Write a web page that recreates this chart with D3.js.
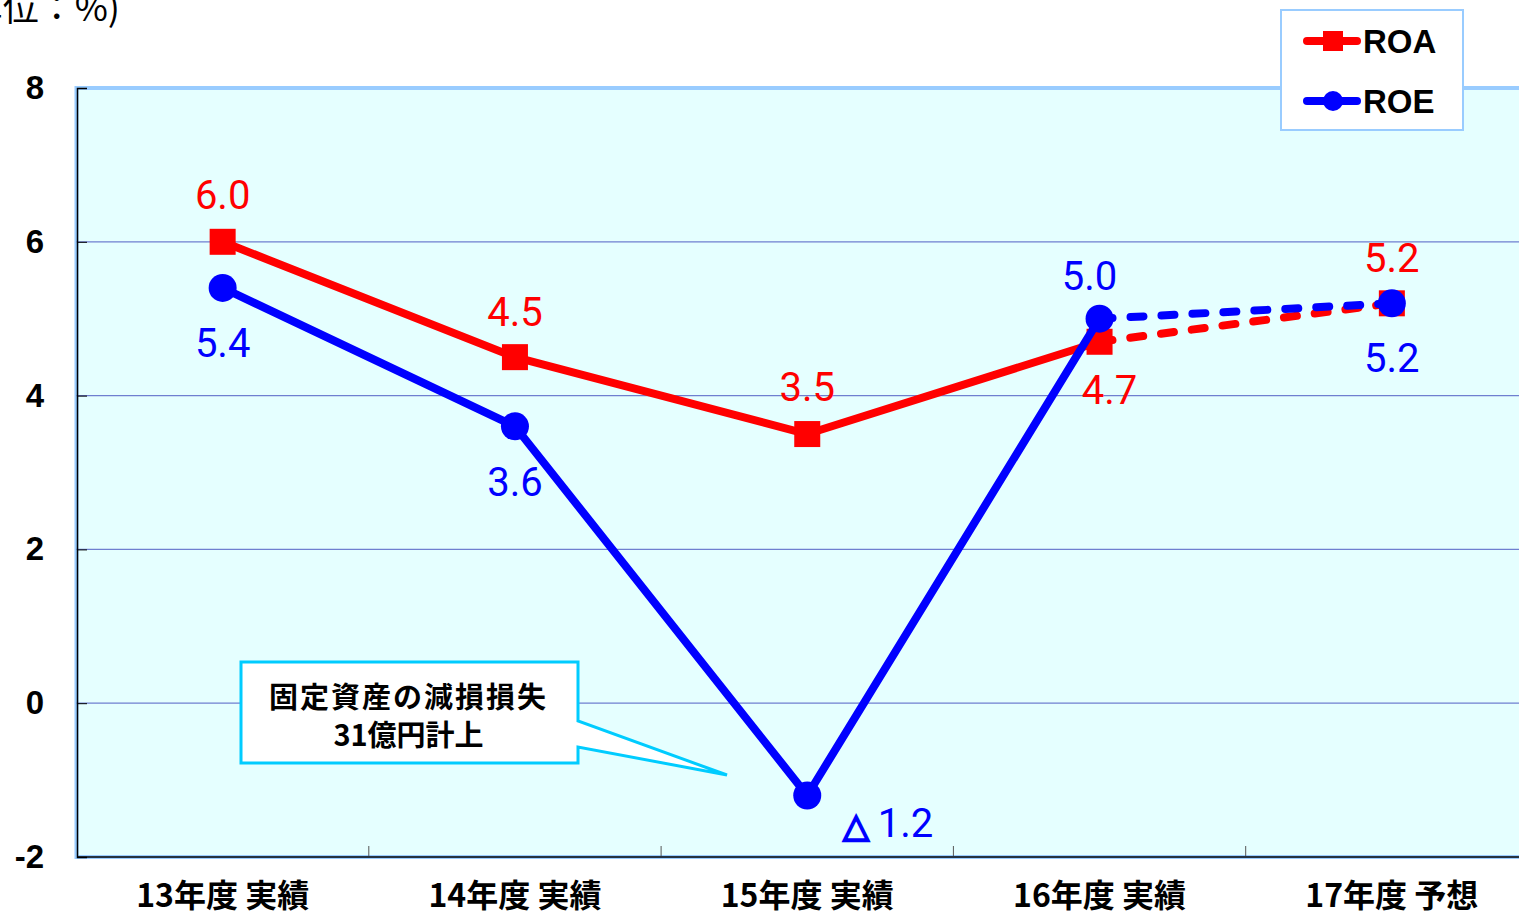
<!DOCTYPE html>
<html>
<head>
<meta charset="utf-8">
<script src="https://cdn.jsdelivr.net/npm/d3@7"></script>
<style>
  body { margin: 0; background: #fff; }
  svg { display: block; }
</style>
</head>
<body>
<div id="chart"></div>
<script>
// chart values
var categories = ["13年度 実績", "14年度 実績", "15年度 実績", "16年度 実績", "17年度 予想"];
var roaValues = [6.0, 4.5, 3.5, 4.7, 5.2];
var roeValues = [5.4, 3.6, -1.2, 5.0, 5.2];
var yTicks = [-2, 0, 2, 4, 6, 8];
var seriesNames = ["ROA", "ROE"];
var forecastFrom = 3; // index where the dashed (forecast) segment starts

var svgWidth = 1519;
var svgHeight = 915;

var plot = { left: 76.5, top: 88, right: 1538, bottom: 857 };

var svg = d3.select("#chart")
  .append("svg")
  .attr("width", svgWidth)
  .attr("height", svgHeight);

var x = d3.scaleBand()
  .domain(categories)
  .range([plot.left, plot.right]);

var y = d3.scaleLinear()
  .domain([-2, 8])
  .range([plot.bottom, plot.top]);

var cx = d => x(d) + x.bandwidth() / 2;

// unit label (sits partly off the top-left edge like the original)
svg.append("text")
  .attr("x", 120)
  .attr("y", 21)
  .attr("text-anchor", "end")
  .style("font-family", "'Noto Sans CJK JP'")
  .style("font-size", "36px")
  .text("（単位：%)");

// plot area
svg.append("rect")
  .attr("x", plot.left)
  .attr("y", plot.top)
  .attr("width", plot.right - plot.left)
  .attr("height", plot.bottom - plot.top)
  .attr("fill", "#e5ffff")
  .attr("stroke", "#99ccff")
  .attr("stroke-width", 4);

// gridlines
svg.append("g")
  .selectAll("line")
  .data(yTicks.filter(d => d > -2 && d < 8))
  .enter()
  .append("line")
  .attr("x1", plot.left)
  .attr("x2", plot.right)
  .attr("y1", d => y(d))
  .attr("y2", d => y(d))
  .attr("stroke", "#6f7fd0")
  .attr("stroke-width", 1.2);

// y axis
var yAxis = svg.append("g")
  .attr("transform", `translate(${plot.left + 0.5}, 0)`)
  .call(d3.axisLeft(y).tickValues(yTicks).tickSize(-10).tickPadding(33).tickFormat(d => String(d)));
yAxis.select(".domain").attr("stroke", "#000").attr("stroke-width", 1.5);
yAxis.selectAll("text")
  .style("font-family", "'Liberation Sans', Arial")
  .style("font-weight", "bold")
  .style("font-size", "33px")
  .attr("fill", "#000");

// x axis: labels at band centres, ticks at band edges pointing inward
var xAxis = svg.append("g")
  .attr("transform", `translate(0, ${plot.bottom - 0.5})`)
  .call(d3.axisBottom(x).tickSize(0).tickPadding(28));
xAxis.select(".domain").attr("stroke", "#000").attr("stroke-width", 1.5);
xAxis.selectAll("text")
  .style("font-family", "'Noto Sans CJK JP'")
  .style("font-weight", "bold")
  .style("font-size", "32px")
  .attr("fill", "#000");

svg.append("g")
  .selectAll("line")
  .data(categories.slice(1))
  .enter()
  .append("line")
  .attr("x1", d => x(d))
  .attr("x2", d => x(d))
  .attr("y1", plot.bottom - 1)
  .attr("y2", plot.bottom - 11)
  .attr("stroke", "#555")
  .attr("stroke-width", 1);

// callout for the impairment loss
var box = { x: 241, y: 662, w: 337, h: 101 };
var tip = [727, 775];
svg.append("path")
  .attr("d", `M${box.x},${box.y} H${box.x + box.w} V${box.y + 59} L${tip[0]},${tip[1]} L${box.x + box.w},${box.y + 85} V${box.y + box.h} H${box.x} Z`)
  .attr("fill", "#fff")
  .attr("stroke", "#00ccff")
  .attr("stroke-width", 3);

var callout = svg.append("text")
  .attr("x", box.x + box.w / 2 - 1)
  .attr("text-anchor", "middle")
  .style("font-family", "'Noto Sans CJK JP'")
  .style("font-weight", "bold")
  .style("font-size", "29px");
callout.append("tspan").attr("x", box.x + box.w / 2 - 1).attr("y", 708).style("letter-spacing", "2px").text("固定資産の減損損失");
callout.append("tspan").attr("x", box.x + box.w / 2 - 1).attr("y", 746).text("31億円計上");

// series
var colors = { ROA: "#ff0000", ROE: "#0000ff" };
var series = [
  { name: "ROA", values: roaValues },
  { name: "ROE", values: roeValues }
];

var line = d3.line()
  .x(d => cx(d.cat))
  .y(d => y(d.v));

series.forEach(function(s) {
  var pts = s.values.map((v, i) => ({ cat: categories[i], v: v }));
  var g = svg.append("g");
  g.append("path")
    .datum(pts.slice(0, forecastFrom + 1))
    .attr("d", line)
    .attr("fill", "none")
    .attr("stroke", colors[s.name])
    .attr("stroke-width", 8)
    .attr("stroke-linejoin", "round");
  g.append("path")
    .datum(pts.slice(forecastFrom))
    .attr("d", line)
    .attr("fill", "none")
    .attr("stroke", colors[s.name])
    .attr("stroke-width", 8)
    .attr("stroke-linecap", "round")
    .attr("stroke-dasharray", "13,18");
  s.pts = pts;
  s.g = g;
});

// markers (drawn after both lines)
series.forEach(function(s) {
  var sel = s.g.selectAll(".mk")
    .data(s.pts)
    .enter();
  if (s.name === "ROA") {
    sel.append("rect")
      .attr("x", d => cx(d.cat) - 13)
      .attr("y", d => y(d.v) - 13)
      .attr("width", 26)
      .attr("height", 26)
      .attr("fill", colors.ROA);
  } else {
    sel.append("circle")
      .attr("cx", d => cx(d.cat))
      .attr("cy", d => y(d.v))
      .attr("r", 14)
      .attr("fill", colors.ROE);
  }
});

// data labels: offsets from each point (dx, dy to label centre)
var labelOffsets = {
  ROA: [[0, -47], [0, -46], [0, -47], [10, 48], [0, -46]],
  ROE: [[0, 55], [0, 55], [81, 27], [-10, -43], [0, 54]]
};
var fmt = d3.format(".1f");

series.forEach(function(s) {
  var t = svg.append("g")
    .selectAll("text")
    .data(s.pts)
    .enter()
    .append("text")
    .attr("x", (d, i) => cx(d.cat) + labelOffsets[s.name][i][0])
    .attr("y", (d, i) => y(d.v) + labelOffsets[s.name][i][1])
    .attr("dy", "0.36em")
    .attr("text-anchor", "middle")
    .attr("fill", colors[s.name])
    .style("font-family", "Roboto")
    .style("font-size", "40px");
  t.filter(d => d.v < 0).append("tspan")
    .style("font-size", "34px")
    .attr("stroke", colors[s.name])
    .attr("stroke-width", 2)
    .text("\u25B3 ");
  t.append("tspan")
    .text(d => fmt(Math.abs(d.v)));
});

// legend
var legend = svg.append("g");
legend.append("rect")
  .attr("x", 1281)
  .attr("y", 10)
  .attr("width", 182)
  .attr("height", 120)
  .attr("fill", "#fff")
  .attr("stroke", "#99ccff")
  .attr("stroke-width", 2);

seriesNames.forEach(function(name, i) {
  var ly = 41 + i * 60;
  legend.append("line")
    .attr("x1", 1307)
    .attr("x2", 1357)
    .attr("y1", ly)
    .attr("y2", ly)
    .attr("stroke", colors[name])
    .attr("stroke-width", 8)
    .attr("stroke-linecap", "round");
  if (name === "ROA") {
    legend.append("rect")
      .attr("x", 1323)
      .attr("y", ly - 10)
      .attr("width", 20)
      .attr("height", 20)
      .attr("fill", colors[name]);
  } else {
    legend.append("circle")
      .attr("cx", 1333)
      .attr("cy", ly)
      .attr("r", 10)
      .attr("fill", colors[name]);
  }
  legend.append("text")
    .attr("x", 1363)
    .attr("y", ly)
    .attr("dy", "0.36em")
    .style("font-family", "'Liberation Sans', Arial")
    .style("font-weight", "bold")
    .style("font-size", "33px")
    .text(name);
});
</script>
</body>
</html>
